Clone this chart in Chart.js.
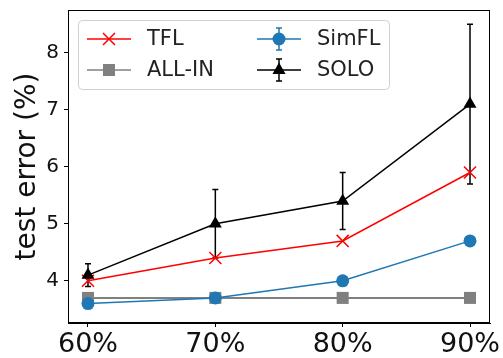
<!DOCTYPE html>
<html>
<head>
<meta charset="utf-8">
<script src="https://cdn.jsdelivr.net/npm/chart.js@4.4.1/dist/chart.umd.min.js"></script>
<style>
  html, body { margin: 0; padding: 0; background: #fff; }
  #wrap { width: 503px; height: 358px; }
</style>
</head>
<body>
<div id="wrap"><canvas id="chart" width="503" height="358"></canvas></div>
<script>
// values
const xLabels = ['60%', '70%', '80%', '90%'];
const tfl   = [4.0, 4.4, 4.7, 5.9];
const allIn = [3.7, 3.7, 3.7, 3.7];
const simfl = [3.6, 3.7, 4.0, 4.7];
const solo  = [4.1, 5.0, 5.4, 7.1];
const soloErr = [0.2, 0.6, 0.5, 1.4];
const yTicks = [4, 5, 6, 7, 8];

const FONT = 'DejaVu Sans';

function pts(arr){
    return arr.map((v, i) => ({x: i, y: v}));
}

// error bars for SOLO, drawn through the chart scales
const errorBars = {
    id: 'errorBars',
    beforeDatasetsDraw(chart){
        const ctx = chart.ctx;
        const xs = chart.scales.x, ys = chart.scales.y;
        ctx.save();
        ctx.strokeStyle = '#000';
        ctx.lineWidth = 1.5;
        solo.forEach((v, i) => {
            const x = xs.getPixelForValue(i);
            const yTop = ys.getPixelForValue(v + soloErr[i]);
            const yBot = ys.getPixelForValue(v - soloErr[i]);
            ctx.beginPath();
            ctx.moveTo(x, yTop); ctx.lineTo(x, yBot);
            ctx.moveTo(x - 3, yTop); ctx.lineTo(x + 3, yTop);
            ctx.moveTo(x - 3, yBot); ctx.lineTo(x + 3, yBot);
            ctx.stroke();
        });
        ctx.restore();
    }
};

function marker(ctx, type, x, y, color){
    ctx.save();
    ctx.fillStyle = color;
    ctx.strokeStyle = color;
    ctx.lineWidth = 1.5;
    ctx.beginPath();
    if (type === 'x') {
        ctx.moveTo(x - 6, y - 6); ctx.lineTo(x + 6, y + 6);
        ctx.moveTo(x - 6, y + 6); ctx.lineTo(x + 6, y - 6);
        ctx.stroke();
    } else if (type === 'square') {
        ctx.fillRect(x - 6, y - 6, 12, 12);
    } else if (type === 'circle') {
        ctx.arc(x, y, 6.5, 0, Math.PI * 2);
        ctx.fill();
    } else if (type === 'triangle') {
        ctx.moveTo(x, y - 7.5); ctx.lineTo(x + 6.5, y + 4); ctx.lineTo(x - 6.5, y + 4);
        ctx.closePath();
        ctx.fill();
    }
    ctx.restore();
}

// frame on all four sides + matplotlib style legend
const frameAndLegend = {
    id: 'frameAndLegend',
    afterDraw(chart){
        const ctx = chart.ctx;
        const a = chart.chartArea;
        ctx.save();
        ctx.strokeStyle = '#000';
        ctx.lineWidth = 1;
        ctx.strokeRect(Math.round(a.left) + 0.5, Math.round(a.top) + 0.5,
                       Math.round(a.right - a.left) - 1, Math.round(a.bottom - a.top) - 1);

        // legend box
        ctx.beginPath();
        ctx.roundRect(78.5, 20.5, 311, 69, 4);
        ctx.fillStyle = 'rgba(255,255,255,0.8)';
        ctx.fill();
        ctx.strokeStyle = '#d0d0d0';
        ctx.stroke();

        const entries = [
            {name: 'TFL',    color: '#ff0000', type: 'x',        x0: 87,  y: 39, err: false},
            {name: 'ALL-IN', color: '#808080', type: 'square',   x0: 87,  y: 70, err: false},
            {name: 'SimFL',  color: '#1f77b4', type: 'circle',   x0: 257, y: 39, err: true},
            {name: 'SOLO',   color: '#000000', type: 'triangle', x0: 257, y: 70, err: true}
        ];
        ctx.font = '21px "' + FONT + '"';
        ctx.textBaseline = 'middle';
        entries.forEach(e => {
            const mid = e.x0 + 22;
            ctx.strokeStyle = e.color;
            ctx.lineWidth = 1.5;
            ctx.beginPath();
            ctx.moveTo(e.x0, e.y); ctx.lineTo(e.x0 + 44, e.y);
            if (e.err) {
                ctx.moveTo(mid, e.y - 11); ctx.lineTo(mid, e.y + 11);
                ctx.moveTo(mid - 3, e.y - 11); ctx.lineTo(mid + 3, e.y - 11);
                ctx.moveTo(mid - 3, e.y + 11); ctx.lineTo(mid + 3, e.y + 11);
            }
            ctx.stroke();
            marker(ctx, e.type, mid, e.y, e.color);
            ctx.fillStyle = '#222';
            ctx.fillText(e.name, e.x0 + 60, e.y + 1);
        });
        ctx.restore();
    }
};

const ctx = document.getElementById('chart').getContext('2d');

const myChart = new Chart(ctx, {
    type: 'line',
    data: {
        datasets: [
            {
                label: 'TFL',
                data: pts(tfl),
                borderColor: '#ff0000',
                backgroundColor: '#ff0000',
                borderWidth: 1.5,
                pointStyle: 'crossRot',
                pointRadius: 8.5,
                pointBorderWidth: 1.5,
                order: 3
            },
            {
                label: 'ALL-IN',
                data: pts(allIn),
                borderColor: '#808080',
                backgroundColor: '#808080',
                borderWidth: 2,
                pointStyle: 'rect',
                pointRadius: 8.5,
                pointBorderWidth: 0,
                order: 2
            },
            {
                label: 'SimFL',
                data: pts(simfl),
                borderColor: '#1f77b4',
                backgroundColor: '#1f77b4',
                borderWidth: 1.5,
                pointStyle: 'circle',
                pointRadius: 6.5,
                pointBorderWidth: 0,
                order: 1
            },
            {
                label: 'SOLO',
                data: pts(solo),
                borderColor: '#000000',
                backgroundColor: '#000000',
                borderWidth: 1.5,
                pointStyle: 'triangle',
                pointRadius: 7.5,
                pointBorderWidth: 0,
                order: 0
            }
        ]
    },
    options: {
        responsive: false,
        animation: false,
        events: [],
        layout: {
            padding: {left: 0, right: 13, top: 10, bottom: 0}
        },
        plugins: {
            legend: {display: false},
            tooltip: {enabled: false}
        },
        scales: {
            x: {
                type: 'linear',
                min: -0.157,
                max: 3.157,
                afterBuildTicks: axis => { axis.ticks = xLabels.map((l, i) => ({value: i})); },
                afterFit: axis => { axis.height = 35; axis.paddingLeft = 0; axis.paddingRight = 0; },
                grid: {drawOnChartArea: false, tickLength: 4, color: '#000', tickWidth: 1},
                border: {display: true, color: '#000', width: 1},
                ticks: {
                    color: '#111',
                    padding: 2,
                    maxRotation: 0,
                    autoSkip: false,
                    font: {family: FONT, size: 27},
                    callback: value => xLabels[value]
                }
            },
            y: {
                min: 3.26,
                max: 8.75,
                afterBuildTicks: axis => { axis.ticks = yTicks.map(v => ({value: v})); },
                afterFit: axis => { axis.width = 68; axis.paddingTop = 0; axis.paddingBottom = 0; },
                grid: {drawOnChartArea: false, tickLength: 4, color: '#000', tickWidth: 1},
                border: {display: true, color: '#000', width: 1},
                title: {
                    display: true,
                    text: 'test error (%)',
                    color: '#111',
                    font: {family: FONT, size: 28},
                    padding: {top: 11, bottom: 0}
                },
                ticks: {
                    color: '#111',
                    padding: 5,
                    font: {family: FONT, size: 20},
                    callback: value => value
                }
            }
        }
    },
    plugins: [errorBars, frameAndLegend]
});
</script>
</body>
</html>
